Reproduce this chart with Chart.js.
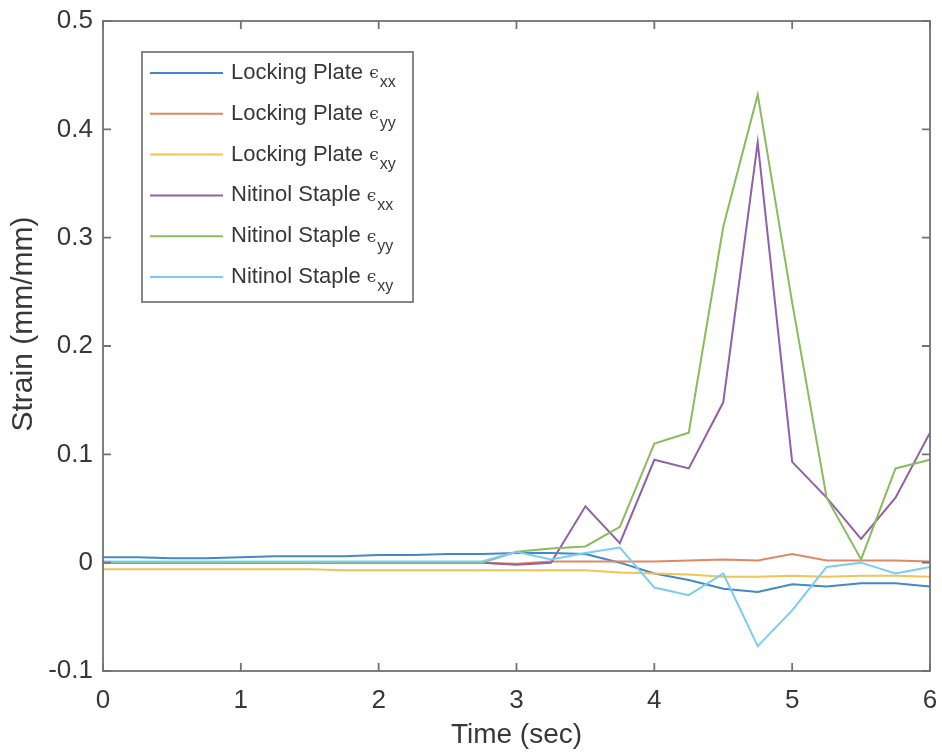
<!DOCTYPE html>
<html>
<head>
<meta charset="utf-8">
<script src="https://cdn.jsdelivr.net/npm/chart.js@4"></script>
<style>
  html, body { margin: 0; padding: 0; background: #fff; }
  #wrap { width: 942px; height: 753px; }
</style>
</head>
<body>
<div id="wrap"><canvas id="strain"></canvas></div>
<script>
// sample times (sec)
var times = [0, 0.25, 0.5, 0.75, 1, 1.25, 1.5, 1.75, 2, 2.25, 2.5, 2.75, 3,
  3.25, 3.5, 3.75, 4, 4.25, 4.5, 4.75, 5, 5.25, 5.5, 5.75, 6];

// strain (mm/mm)
var lockXX = [0.005, 0.005, 0.004, 0.004, 0.005, 0.006, 0.006, 0.006, 0.007, 0.007, 0.008, 0.008, 0.009,
  0.009, 0.008, 0.0, -0.01, -0.016, -0.024, -0.027, -0.02, -0.022, -0.019, -0.019, -0.022];
var lockYY = [0, 0, 0, 0, 0, 0, 0, 0, 0, 0, 0, 0, -0.001,
  0.001, 0.001, 0.001, 0.001, 0.002, 0.003, 0.002, 0.008, 0.002, 0.002, 0.002, 0.001];
var lockXY = [-0.006, -0.006, -0.006, -0.006, -0.006, -0.006, -0.006, -0.007, -0.007, -0.007, -0.007, -0.007, -0.007,
  -0.007, -0.007, -0.009, -0.01, -0.011, -0.013, -0.013, -0.012, -0.013, -0.012, -0.012, -0.013];
var nitXX = [0, 0, 0, 0, 0, 0, 0, 0, 0, 0, 0, 0, -0.002,
  0.0, 0.052, 0.018, 0.095, 0.087, 0.148, 0.388, 0.093, 0.06, 0.022, 0.06, 0.12];
var nitYY = [0, 0, 0, 0, 0, 0, 0, 0, 0, 0, 0, 0, 0.01,
  0.013, 0.015, 0.033, 0.11, 0.12, 0.31, 0.432, 0.24, 0.06, 0.003, 0.087, 0.095];
var nitXY = [0.001, 0.001, 0.001, 0.001, 0.001, 0.001, 0.001, 0.001, 0.001, 0.001, 0.001, 0.001, 0.01,
  0.003, 0.009, 0.014, -0.023, -0.03, -0.01, -0.077, -0.044, -0.004, 0.0, -0.01, -0.004];

var seriesNames = ["Locking Plate", "Locking Plate", "Locking Plate",
  "Nitinol Staple", "Nitinol Staple", "Nitinol Staple"];
var subscripts = ["xx", "yy", "xy", "xx", "yy", "xy"];
var seriesValues = [lockXX, lockYY, lockXY, nitXX, nitYY, nitXY];
var lineColors = ["#4289c8", "#e08862", "#f0c456", "#9160a8", "#8abb5e", "#78cdf0"];

var xTicks = [0, 1, 2, 3, 4, 5, 6];
var yTicks = [-0.1, 0, 0.1, 0.2, 0.3, 0.4, 0.5];

var textColor = "#383838";
var axisColor = "#727272";
var fontFamily = "'Liberation Sans', Arial, sans-serif";

// axes box with inward tick marks, y label, and the legend box
var matlabAxes = {
  id: "matlabAxes",
  afterDatasetsDraw(chart) {
    var ctx = chart.ctx;
    var a = chart.chartArea;
    var xs = chart.scales.x;
    var ys = chart.scales.y;
    var len = 8;
    ctx.save();
    ctx.strokeStyle = axisColor;
    ctx.lineWidth = 1.8;
    ctx.beginPath();
    xTicks.forEach((v) => {
      var px = xs.getPixelForValue(v);
      ctx.moveTo(px, a.bottom);
      ctx.lineTo(px, a.bottom - len);
      ctx.moveTo(px, a.top);
      ctx.lineTo(px, a.top + len);
    });
    yTicks.forEach((v) => {
      var py = ys.getPixelForValue(v);
      ctx.moveTo(a.left, py);
      ctx.lineTo(a.left + len, py);
      ctx.moveTo(a.right, py);
      ctx.lineTo(a.right - len, py);
    });
    ctx.stroke();
    ctx.strokeRect(a.left, a.top, a.right - a.left, a.bottom - a.top);

    // y axis label
    ctx.translate(24, 324);
    ctx.rotate(-Math.PI / 2);
    ctx.fillStyle = textColor;
    ctx.font = "30px " + fontFamily;
    ctx.textAlign = "center";
    ctx.textBaseline = "middle";
    ctx.fillText("Strain (mm/mm)", 0, 0);
    ctx.restore();
  },
  afterDraw(chart) {
    var ctx = chart.ctx;
    var box = { left: 142, top: 52, width: 271, height: 250 };
    var rowH = 40.8;
    ctx.save();
    ctx.fillStyle = "#fff";
    ctx.fillRect(box.left, box.top, box.width, box.height);
    ctx.strokeStyle = "#7a7a7a";
    ctx.lineWidth = 1.8;
    ctx.strokeRect(box.left, box.top, box.width, box.height);
    chart.data.datasets.forEach((ds, i) => {
      var y = box.top + 21 + i * rowH;
      ctx.strokeStyle = ds.borderColor;
      ctx.lineWidth = 2;
      ctx.beginPath();
      ctx.moveTo(150, y);
      ctx.lineTo(223, y);
      ctx.stroke();
      ctx.fillStyle = textColor;
      ctx.textBaseline = "middle";
      ctx.font = "22px " + fontFamily;
      var label = seriesNames[i] + " ";
      ctx.fillText(label, 231, y);
      var x = 231 + ctx.measureText(label).width;
      ctx.font = "17px 'DejaVu Serif', serif";
      ctx.fillText("\u03F5", x, y + 1);
      x += ctx.measureText("\u03F5").width + 1;
      ctx.font = "16px " + fontFamily;
      ctx.fillText(ds.sub, x, y + 10);
    });
    ctx.restore();
  },
};

var datasets = seriesValues.map((vals, i) => ({
  label: seriesNames[i] + " \u03F5" + subscripts[i],
  sub: subscripts[i],
  data: times.map((t, j) => ({ x: t, y: vals[j] })),
  borderColor: lineColors[i],
  borderWidth: 2,
  pointRadius: 0,
  tension: 0,
  fill: false,
  order: seriesValues.length - 1 - i,
}));

var tickFont = { family: fontFamily, size: 26 };
var titleFont = { family: fontFamily, size: 28 };

new Chart(document.getElementById("strain"), {
  type: "line",
  data: { datasets: datasets },
  options: {
    responsive: true,
    maintainAspectRatio: false,
    animation: false,
    layout: { padding: { top: 21, right: 12, left: 0, bottom: 0 } },
    plugins: {
      legend: { display: false },
      tooltip: { enabled: false },
    },
    scales: {
      x: {
        type: "linear",
        min: 0,
        max: 6,
        afterFit: (scale) => {
          scale.height = 82;
          scale.paddingLeft = 0;
          scale.paddingRight = 0;
        },
        afterBuildTicks: (scale) => { scale.ticks = xTicks.map((v) => ({ value: v })); },
        grid: { display: false, drawTicks: false, tickLength: 0 },
        border: { display: false },
        ticks: { color: textColor, font: tickFont, padding: 14, maxRotation: 0 },
        title: { display: true, text: "Time (sec)", color: textColor, font: titleFont, padding: { top: 0, bottom: 1 } },
      },
      y: {
        type: "linear",
        min: -0.1,
        max: 0.5,
        afterFit: (scale) => {
          scale.width = 103;
          scale.paddingTop = 0;
          scale.paddingBottom = 0;
        },
        afterBuildTicks: (scale) => { scale.ticks = yTicks.map((v) => ({ value: v })); },
        grid: { display: false, drawTicks: false, tickLength: 0 },
        border: { display: false },
        ticks: {
          color: textColor,
          font: tickFont,
          padding: 10,
          callback: (v) => (Math.abs(v) < 1e-9 ? "0" : String(Math.round(v * 10) / 10)),
        },
      },
    },
  },
  plugins: [matlabAxes],
});
</script>
</body>
</html>
